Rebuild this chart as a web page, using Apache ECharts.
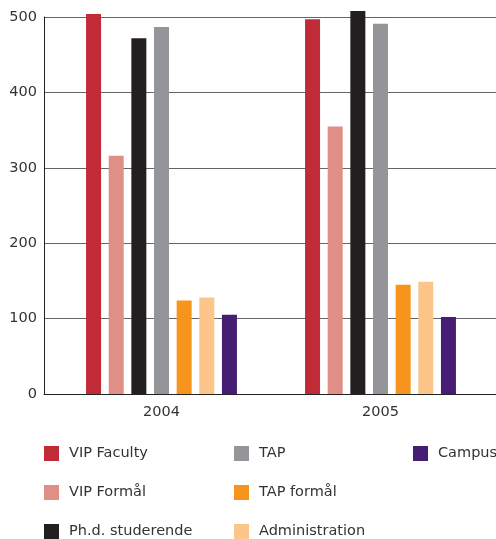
<!DOCTYPE html>
<html>
<head>
<meta charset="utf-8">
<script src="https://cdn.jsdelivr.net/npm/echarts@6/dist/echarts.min.js"></script>
<style>
  html, body { margin: 0; padding: 0; background: #fff; }
  #chart { width: 496px; height: 539px; }
</style>
</head>
<body>
<div id="chart"></div>
<script>
// kategorier og værdier
const years = ['2004', '2005']
const seriesNames = ['VIP Faculty', 'VIP Formål', 'Ph.d. studerende', 'TAP', 'TAP formål', 'Administration', 'Campus']
const vipFaculty = [504, 497]
const vipFormaal = [316, 355]
const phd = [472, 508]
const tap = [487, 491]
const tapFormaal = [124, 145]
const administration = [128, 149]
const campus = [105, 102]
const yTicks = [0, 100, 200, 300, 400, 500]
const barAxisMax = 520

const colors = ['#c12a37', '#df8f85', '#231f20', '#939598', '#f7941d', '#fcc589', '#461c74']
const values = [vipFaculty, vipFormaal, phd, tap, tapFormaal, administration, campus]

const font = 'DejaVu Sans'
const textColor = '#333'
const fontSize = 14.5

const chart = echarts.init(document.getElementById('chart'))

const legendBase = {
  orient: 'vertical',
  top: 446,
  height: 100,
  padding: 0,
  icon: 'rect',
  itemWidth: 15,
  itemHeight: 15,
  itemGap: 24,
  textStyle: { fontFamily: font, fontSize: fontSize, color: textColor, padding: [0, 0, 0, 5] }
}

const option = {
  animation: false,
  grid: [
    // gitterlinjer og akser (0-500)
    { left: 44, right: 0, top: 17, bottom: 145 },
    // søjler, samme skala men med plads over 500
    { left: 52, right: 6, top: 2, bottom: 145 }
  ],
  legend: [
    Object.assign({ left: 44, data: seriesNames.slice(0, 3) }, legendBase),
    Object.assign({ left: 234, data: seriesNames.slice(3, 6) }, legendBase),
    Object.assign({ left: 413, data: seriesNames.slice(6) }, legendBase)
  ],
  xAxis: [
    {
      type: 'category',
      gridIndex: 0,
      data: years,
      axisLine: { show: true, lineStyle: { color: '#222', width: 1 } },
      axisTick: { show: false },
      axisLabel: { show: false }
    },
    {
      type: 'category',
      gridIndex: 1,
      data: years,
      axisLine: { show: false },
      axisTick: { show: false },
      axisLabel: { fontFamily: font, fontSize: fontSize, color: textColor, margin: 11 }
    }
  ],
  yAxis: [
    {
      type: 'value',
      gridIndex: 0,
      min: yTicks[0],
      max: yTicks[yTicks.length - 1],
      interval: 100,
      axisLine: { show: true, lineStyle: { color: '#222', width: 1 } },
      axisTick: { show: false },
      axisLabel: { fontFamily: font, fontSize: fontSize, color: textColor, margin: 7 },
      splitLine: { lineStyle: { color: '#666', width: 1 } }
    },
    {
      type: 'value',
      gridIndex: 1,
      min: yTicks[0],
      max: barAxisMax,
      show: false
    }
  ],
  series: seriesNames.map((name, i) => ({
    name: name,
    type: 'bar',
    xAxisIndex: 1,
    yAxisIndex: 1,
    data: values[i],
    barWidth: 15,
    barGap: '51%',
    itemStyle: { color: colors[i] }
  }))
}

chart.setOption(option)
</script>
</body>
</html>
